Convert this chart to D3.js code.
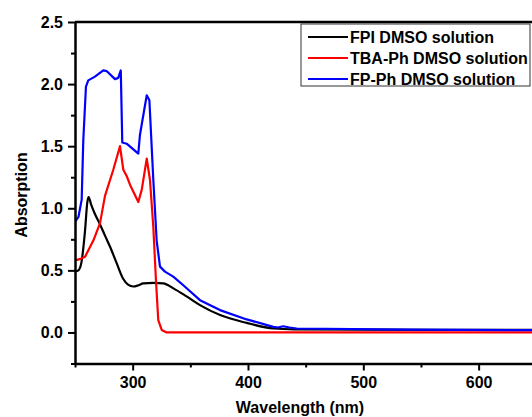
<!DOCTYPE html>
<html>
<head>
<meta charset="utf-8">
<script src="https://cdn.jsdelivr.net/npm/d3@7/dist/d3.min.js"></script>
<style>
  html, body { margin: 0; padding: 0; background: #fff; overflow: hidden; }
  svg { display: block; }
  text { font-family: "Liberation Sans", Arial, sans-serif; font-weight: bold; }
</style>
</head>
<body>
<svg id="chart" width="532" height="417"></svg>
<script>
// UV-Vis absorption spectra (wavelength in nm, absorbance)
const fpiWavelength = [250, 253, 255.5, 258.7, 260.7, 261.8, 264, 267, 271.7, 276, 280.4, 286.2, 291.9, 296, 300.6, 305, 309.2, 318, 326.6, 335.3, 346.8, 358.4, 375.8, 398.9, 422, 440, 500, 650];
const fpiAbsorbance = [0.49, 0.50, 0.56, 0.82, 1.05, 1.09, 1.03, 0.96, 0.87, 0.78, 0.69, 0.556, 0.43, 0.385, 0.37, 0.38, 0.395, 0.40, 0.395, 0.355, 0.29, 0.22, 0.14, 0.077, 0.032, 0.025, 0.022, 0.02];

const tbaWavelength = [250, 254, 258.7, 265.9, 271.7, 276, 283.2, 289, 291.9, 294.8, 297.7, 304.9, 307.9, 312.2, 315, 317.9, 320.2, 322.2, 325.2, 329.5, 400, 650];
const tbaAbsorbance = [0.58, 0.59, 0.61, 0.74, 0.88, 1.10, 1.31, 1.50, 1.31, 1.26, 1.19, 1.05, 1.15, 1.40, 1.23, 0.85, 0.42, 0.10, 0.02, 0.0, 0.0, 0.0];

const fpphWavelength = [250, 253, 255.8, 257.2, 259.5, 261.5, 267.3, 274.5, 277.4, 284.7, 287.5, 289.7, 291, 294.8, 304.9, 306.3, 312.2, 314.5, 317.9, 320.8, 323.7, 328, 335.2, 343.9, 358.4, 375.7, 398.9, 422, 426, 430.6, 436, 442.2, 514.5, 540, 650];
const fpphAbsorbance = [0.89, 0.93, 1.07, 1.55, 1.98, 2.03, 2.06, 2.11, 2.105, 2.04, 2.05, 2.11, 1.53, 1.52, 1.44, 1.59, 1.91, 1.87, 1.23, 0.74, 0.53, 0.49, 0.45, 0.38, 0.26, 0.18, 0.105, 0.045, 0.04, 0.05, 0.04, 0.032, 0.024, 0.022, 0.018];

const seriesNames = ["FPI DMSO solution", "TBA-Ph DMSO solution", "FP-Ph DMSO solution"];
const seriesColors = ["#000000", "#ff0000", "#0000ff"];

const yMajorTicks = [0.0, 0.5, 1.0, 1.5, 2.0, 2.5];
const yMinorTicks = [-0.25, 0.25, 0.75, 1.25, 1.75, 2.25];
const xMajorTicks = [300, 400, 500, 600];
const xMinorTicks = [250, 350, 450, 550, 650];

const svg = d3.select("#chart");
const plotLeft = 75, plotTop = 22, plotBottom = 363.5, plotRight = 536.3;

const x = d3.scaleLinear().domain([250, 650]).range([plotLeft, plotRight]);
const y = d3.scaleLinear().domain([-0.25, 2.5]).range([plotBottom, plotTop]);

const series = [
  { name: seriesNames[0], color: seriesColors[0], wl: fpiWavelength, ab: fpiAbsorbance, curve: d3.curveMonotoneX },
  { name: seriesNames[1], color: seriesColors[1], wl: tbaWavelength, ab: tbaAbsorbance, curve: d3.curveLinear },
  { name: seriesNames[2], color: seriesColors[2], wl: fpphWavelength, ab: fpphAbsorbance, curve: d3.curveLinear }
];

svg.append("defs").append("clipPath").attr("id", "plotClip")
  .append("rect").attr("x", plotLeft).attr("y", plotTop)
  .attr("width", plotRight - plotLeft).attr("height", plotBottom - plotTop);

const plot = svg.append("g").attr("clip-path", "url(#plotClip)");
series.forEach(s => {
  const line = d3.line().x(d => x(d[0])).y(d => y(d[1])).curve(s.curve);
  plot.append("path")
    .datum(s.wl.map((w, i) => [w, s.ab[i]]))
    .attr("d", line)
    .attr("fill", "none")
    .attr("stroke", s.color)
    .attr("stroke-width", 2.2)
    .attr("stroke-linejoin", "round");
});

// Frame: top and right borders
svg.append("line").attr("x1", plotLeft).attr("x2", plotRight).attr("y1", plotTop).attr("y2", plotTop)
  .attr("stroke", "#000").attr("stroke-width", 2.5);
svg.append("line").attr("x1", plotRight).attr("x2", plotRight).attr("y1", plotTop).attr("y2", plotBottom)
  .attr("stroke", "#000").attr("stroke-width", 2.5);

// Y axis
svg.append("g").attr("transform", `translate(${plotLeft},0)`)
  .call(d3.axisLeft(y).tickValues(yMajorTicks).tickFormat(d3.format(".1f")).tickSize(7).tickPadding(5).tickSizeOuter(0));
svg.append("g").attr("transform", `translate(${plotLeft},0)`)
  .call(d3.axisLeft(y).tickValues(yMinorTicks).tickFormat("").tickSize(4).tickSizeOuter(0))
  .select(".domain").remove();

// X axis
svg.append("g").attr("transform", `translate(0,${plotBottom})`)
  .call(d3.axisBottom(x).tickValues(xMajorTicks).tickFormat(d3.format("d")).tickSize(7).tickPadding(6).tickSizeOuter(0));
svg.append("g").attr("transform", `translate(0,${plotBottom})`)
  .call(d3.axisBottom(x).tickValues(xMinorTicks).tickFormat("").tickSize(4).tickSizeOuter(0))
  .select(".domain").remove();

svg.selectAll(".domain").attr("stroke", "#000").attr("stroke-width", 2.5);
svg.selectAll(".tick line").attr("stroke", "#000").attr("stroke-width", 2);
svg.selectAll(".tick text").attr("fill", "#000").style("font-size", "16px")
  .style("font-family", "'Liberation Sans', Arial, sans-serif").style("font-weight", "bold");

// Axis titles
svg.append("text").attr("x", 300).attr("y", 413).attr("text-anchor", "middle")
  .style("font-size", "16px").text("Wavelength (nm)");
svg.append("text").attr("transform", "translate(27,195) rotate(-90)").attr("text-anchor", "middle")
  .style("font-size", "16px").text("Absorption");

// Legend
const legend = svg.append("g");
legend.append("rect").attr("x", 301).attr("y", 24).attr("width", 229).attr("height", 62)
  .attr("fill", "#fff").attr("stroke", "#333").attr("stroke-width", 1);
series.forEach((s, i) => {
  const ly = 37 + i * 21;
  legend.append("line").attr("x1", 308).attr("x2", 348).attr("y1", ly).attr("y2", ly)
    .attr("stroke", s.color).attr("stroke-width", 2.2);
  legend.append("text").attr("x", 350).attr("y", ly + 5.5).style("font-size", "16px").text(s.name);
});
</script>
</body>
</html>
